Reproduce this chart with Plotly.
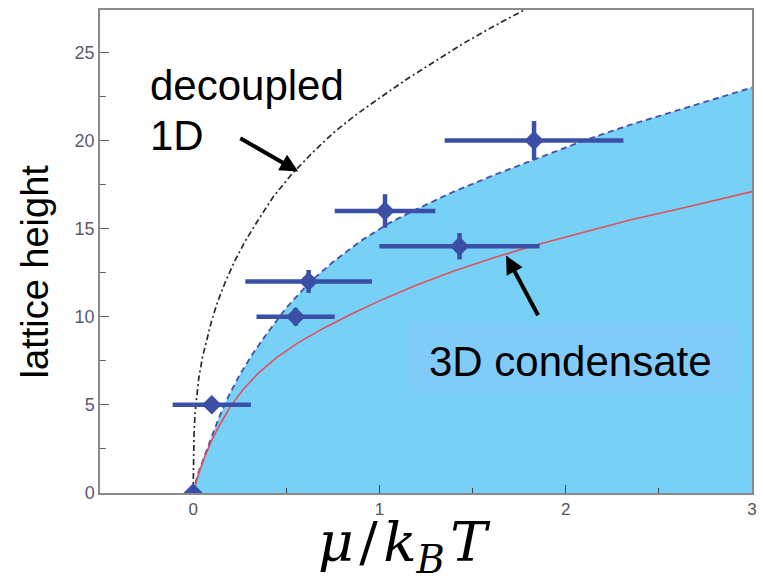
import plotly.graph_objects as go

# ---- data ----
mu = [0.0, 0.10, 0.55, 0.62, 1.03, 1.43, 1.83]
height = [0.0, 5.0, 10.0, 12.0, 16.0, 14.0, 20.0]
mu_err = [0.0, 0.21, 0.21, 0.34, 0.27, 0.43, 0.48]
height_err = [0.0, 0.3, 0.5, 0.65, 0.95, 0.75, 1.1]

# decoupled 1D boundary (dash-dot)
d1_x = [0.0, 0.001, 0.005, 0.01, 0.02, 0.03, 0.05, 0.07, 0.10, 0.13, 0.17, 0.22, 0.28,
        0.35, 0.43, 0.53, 0.64, 0.76, 0.88, 1.00, 1.15, 1.30, 1.45, 1.60, 1.76, 1.90]
d1_y = [0.0, 1.6, 3.4, 4.5, 5.7, 6.5, 7.7, 8.6, 9.8, 10.8, 11.9, 13.1, 14.3,
        15.5, 16.8, 18.1, 19.3, 20.5, 21.5, 22.4, 23.5, 24.5, 25.5, 26.4, 27.3, 28.1]

# upper boundary of the 3D region (dashed, filled)
b_x = [0.0, 0.01, 0.03, 0.06, 0.10, 0.14, 0.19, 0.25, 0.32, 0.40, 0.50, 0.62, 0.75,
       0.90, 1.05, 1.20, 1.40, 1.63, 1.85, 2.10, 2.35, 2.60, 2.80, 3.0]
b_y = [0.0, 0.5, 1.2, 2.1, 3.2, 4.3, 5.5, 6.7, 7.9, 9.1, 10.5, 11.9, 13.1,
       14.3, 15.3, 16.1, 17.1, 18.1, 19.0, 20.0, 20.9, 21.7, 22.35, 23.0]

# red curve
r_x = [0.0, 0.01, 0.03, 0.06, 0.10, 0.15, 0.20, 0.27, 0.35, 0.45, 0.56, 0.70, 0.85,
       1.00, 1.20, 1.40, 1.63, 1.85, 2.10, 2.35, 2.60, 2.80, 3.0]
r_y = [0.0, 0.4, 1.1, 2.0, 3.0, 4.0, 4.9, 5.9, 6.8, 7.7, 8.5, 9.35, 10.15,
       10.9, 11.8, 12.6, 13.4, 14.1, 14.8, 15.5, 16.1, 16.6, 17.1]

x_ticks = [0, 1, 2, 3]
y_ticks = [0, 5, 10, 15, 20, 25]

NAVY = "#3b4fa6"
FILL = "#77d0f5"
SANS = "Liberation Sans, Arial"

fig = go.Figure()

fig.add_trace(go.Scatter(x=b_x, y=b_y, mode="lines", fill="tozeroy",
                         fillcolor=FILL, line=dict(color="#4656a8", width=1.9, dash="6px,4px"),
                         hoverinfo="skip"))
fig.add_trace(go.Scatter(x=r_x, y=r_y, mode="lines",
                         line=dict(color="#e0505e", width=1.6),
                         hoverinfo="skip"))
fig.add_trace(go.Scatter(x=d1_x, y=d1_y, mode="lines",
                         line=dict(color="#2a2a2a", width=1.7, dash="6px,3px,2px,3px"),
                         hoverinfo="skip"))
fig.add_trace(go.Scatter(x=mu, y=height, mode="markers",
                         marker=dict(symbol="diamond", size=15, color=NAVY),
                         error_x=dict(type="data", array=mu_err, thickness=4.5, width=0, color=NAVY),
                         error_y=dict(type="data", array=height_err, thickness=4.5, width=0, color=NAVY)))

# box behind "3D condensate"
fig.add_shape(type="rect", xref="x", yref="y", x0=1.165, x1=2.92, y0=5.57, y1=9.66,
              fillcolor="#80cbfa", line=dict(width=0), layer="above")

W, H = 763, 581
L, R, T, B = 100, 6, 10, 88
pw, ph = W - L - R, H - T - B

annotations = [
    dict(text="decoupled", x=-0.245, y=23.1, xref="x", yref="y", xanchor="left",
         yanchor="middle", showarrow=False, font=dict(family=SANS, size=42, color="black")),
    dict(text="1D", x=-0.245, y=20.26, xref="x", yref="y", xanchor="left",
         yanchor="middle", showarrow=False, font=dict(family=SANS, size=42, color="black")),
    dict(text="", x=0.564, y=18.24, ax=0.245, ay=20.17, xref="x", yref="y", axref="x", ayref="y",
         showarrow=True, arrowhead=2, arrowsize=0.9, arrowwidth=4, arrowcolor="black"),
    dict(text="3D condensate", x=2.027, y=7.47, xref="x", yref="y", xanchor="center",
         yanchor="middle", showarrow=False, font=dict(family=SANS, size=42, color="black")),
    dict(text="", x=1.68, y=13.47, ax=1.856, ay=10.0, xref="x", yref="y", axref="x", ayref="y",
         showarrow=True, arrowhead=2, arrowsize=0.9, arrowwidth=4, arrowcolor="black"),
    dict(text="<i>μ</i>\u200a/\u200a<i>k</i><sub><i>B</i></sub>\u200a<i>T</i>",
         x=(407 - L) / pw, y=(H - B - 546) / ph, xref="paper", yref="paper",
         xanchor="center", yanchor="middle", showarrow=False,
         font=dict(family="DejaVu Serif", size=55, color="black")),
    dict(text="lattice height", x=(35 - L) / pw, y=(H - B - 271) / ph, xref="paper", yref="paper",
         xanchor="center", yanchor="middle", textangle=-90, showarrow=False,
         font=dict(family=SANS, size=38, color="black")),
]

fig.update_layout(
    width=W, height=H,
    margin=dict(l=L, r=R, t=T, b=B),
    paper_bgcolor="white", plot_bgcolor="white",
    showlegend=False,
    annotations=annotations,
    font=dict(family=SANS),
)
fig.update_xaxes(range=[-0.5, 3.0], tickvals=x_ticks, ticktext=[str(v) for v in x_ticks],
                 ticks="inside", ticklen=8, tickwidth=1.3, tickcolor="#444",
                 showline=True, linecolor="#8a8a8a", linewidth=1.5, mirror=True,
                 showgrid=False, zeroline=False,
                 tickfont=dict(size=17, color="#555"),
                 minor=dict(tickvals=[0.5, 1.5, 2.5], ticks="inside", ticklen=5, tickcolor="#444"))
fig.update_yaxes(range=[0, 27.4], tickvals=y_ticks, ticktext=[str(v) for v in y_ticks],
                 ticks="inside", ticklen=9, tickwidth=1.3, tickcolor="#666",
                 showline=True, linecolor="#8a8a8a", linewidth=1.5, mirror=True,
                 showgrid=False, zeroline=False,
                 tickfont=dict(size=18, color="#5a5a70"),
                 minor=dict(tickvals=[2.5, 7.5, 12.5, 17.5, 22.5], ticks="inside", ticklen=6, tickcolor="#666"))

fig.write_html("out.html")
